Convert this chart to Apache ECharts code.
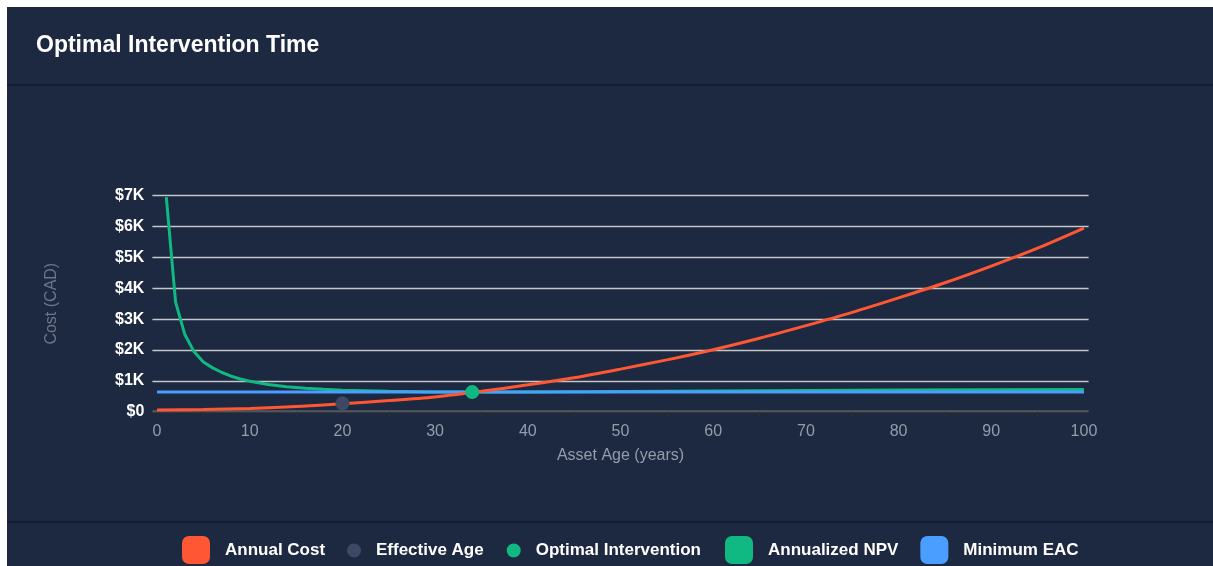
<!DOCTYPE html>
<html>
<head>
<meta charset="utf-8">
<title>Optimal Intervention Time</title>
<script src="https://cdn.jsdelivr.net/npm/echarts@6/dist/echarts.min.js"></script>
<style>
    html, body { margin: 0; padding: 0; background: #ffffff; }
    #chart { width: 1213px; height: 566px; }
</style>
</head>
<body>
<div id="chart"></div>
<script>
// annual cost curve, read every 5 years
var costYears = [0, 5, 10, 15, 20, 25, 30, 35, 40, 45, 50, 55, 60, 65, 70, 75, 80, 85, 90, 95, 100];
var annualCost = [55, 70, 105, 165, 260, 360, 480, 660, 870, 1100, 1380, 1680, 2010, 2380, 2790, 3220, 3690, 4180, 4720, 5300, 5950];

// annualized NPV curve
var npvYears = [1, 2, 3, 4, 5, 6, 7, 8, 9, 10, 12, 14, 16, 18, 20, 25, 30, 34, 40, 50, 60, 70, 80, 90, 100];
var annualizedNpv = [6950, 3550, 2500, 1940, 1610, 1420, 1270, 1150, 1060, 990, 880, 810, 760, 725, 695, 660, 640, 635, 640, 655, 670, 685, 700, 710, 718];

// minimum EAC line
var eacYears = [0, 100];
var minimumEac = [635, 635];

// single points
var effectiveAge = [20, 270];
var optimalIntervention = [34, 635];

// axes
var xLabelValues = [0, 10, 20, 30, 40, 50, 60, 70, 80, 90, 100];
var xTickValues = [5, 15, 25, 35, 45, 55, 65, 75, 85, 95];
var yMax = 7000;
var yStep = 1000;

function pairs(xs, ys) {
    var out = [];
    for (var i = 0; i < xs.length; i++) {
        out.push([xs[i], ys[i]]);
    }
    return out;
}

var font = '"Liberation Sans", Arial, Helvetica, sans-serif';
var legendText = { color: '#ffffff', fontSize: 17, fontWeight: 'bold', fontFamily: font, padding: [0, 0, 0, 10] };

var myChart = echarts.init(document.getElementById('chart'));

var option = {
    backgroundColor: '#ffffff',
    animation: false,
    textStyle: { fontFamily: font },
    graphic: [
        { type: 'rect', z: -10, shape: { x: 7, y: 7, width: 1206, height: 600 }, style: { fill: '#1d2940' } },
        { type: 'rect', z: -9, shape: { x: 7, y: 84, width: 1206, height: 2 }, style: { fill: '#151e31' } },
        { type: 'rect', z: -9, shape: { x: 7, y: 521, width: 1206, height: 2 }, style: { fill: '#151e31' } }
    ],
    title: {
        text: 'Optimal Intervention Time',
        left: 31,
        top: 29,
        textStyle: { color: '#ffffff', fontSize: 23, fontWeight: 'bold', fontFamily: font }
    },
    legend: [{
        left: 177,
        top: 531,
        itemWidth: 28,
        itemHeight: 28,
        icon: 'roundRect',
        textStyle: legendText,
        data: ['Annual Cost']
    }, {
        left: 342,
        top: 537,
        itemWidth: 14,
        itemHeight: 14,
        itemGap: 23,
        icon: 'circle',
        textStyle: legendText,
        data: ['Effective Age', 'Optimal Intervention']
    }, {
        left: 720,
        top: 531,
        itemWidth: 28,
        itemHeight: 28,
        itemGap: 22,
        icon: 'roundRect',
        textStyle: legendText,
        data: ['Annualized NPV', 'Minimum EAC']
    }],
    grid: {
        left: 152.4,
        right: 124.4,
        top: 195.7,
        height: 216
    },
    xAxis: {
        type: 'value',
        min: -0.5,
        max: 100.5,
        name: 'Asset Age (years)',
        nameLocation: 'middle',
        nameGap: 36,
        nameTextStyle: { color: '#959cab', fontSize: 16 },
        axisLine: { lineStyle: { color: '#302f33', width: 1.5 } },
        axisTick: { show: true, customValues: xTickValues, length: 5, lineStyle: { color: '#302f33', width: 1.2 } },
        axisLabel: { customValues: xLabelValues, color: '#959cab', fontSize: 16, margin: 12 },
        splitLine: { show: false }
    },
    yAxis: {
        type: 'value',
        min: 0,
        max: yMax,
        interval: yStep,
        name: 'Cost (CAD)',
        nameLocation: 'middle',
        nameGap: 93,
        nameTextStyle: { color: '#6f7689', fontSize: 16 },
        axisLine: { show: false },
        axisTick: { show: false },
        axisLabel: {
            color: '#ffffff',
            fontWeight: 'bold',
            fontSize: 16,
            margin: 8,
            formatter: function(v) {
                return v === 0 ? '$0' : '$' + (v / 1000) + 'K';
            }
        },
        splitLine: { lineStyle: { color: '#c4c6cb', width: 1.4 } }
    },
    series: [{
        name: 'Annual Cost',
        type: 'line',
        smooth: 0.3,
        showSymbol: false,
        z: 3,
        itemStyle: { color: '#ff5733' },
        lineStyle: { color: '#ff5733', width: 3 },
        data: pairs(costYears, annualCost)
    }, {
        name: 'Effective Age',
        type: 'scatter',
        symbolSize: 14,
        z: 10,
        itemStyle: { color: '#3e4864', opacity: 1 },
        data: [effectiveAge]
    }, {
        name: 'Optimal Intervention',
        type: 'scatter',
        symbolSize: 14,
        z: 10,
        itemStyle: { color: '#10b981', opacity: 1 },
        data: [optimalIntervention]
    }, {
        name: 'Annualized NPV',
        type: 'line',
        showSymbol: false,
        z: 2,
        itemStyle: { color: '#10b981' },
        lineStyle: { color: '#10b981', width: 3 },
        data: pairs(npvYears, annualizedNpv)
    }, {
        name: 'Minimum EAC',
        type: 'line',
        showSymbol: false,
        z: 2,
        itemStyle: { color: '#4a9eff' },
        lineStyle: { color: '#4a9eff', width: 3 },
        data: pairs(eacYears, minimumEac)
    }]
};

myChart.setOption(option);
</script>
</body>
</html>
